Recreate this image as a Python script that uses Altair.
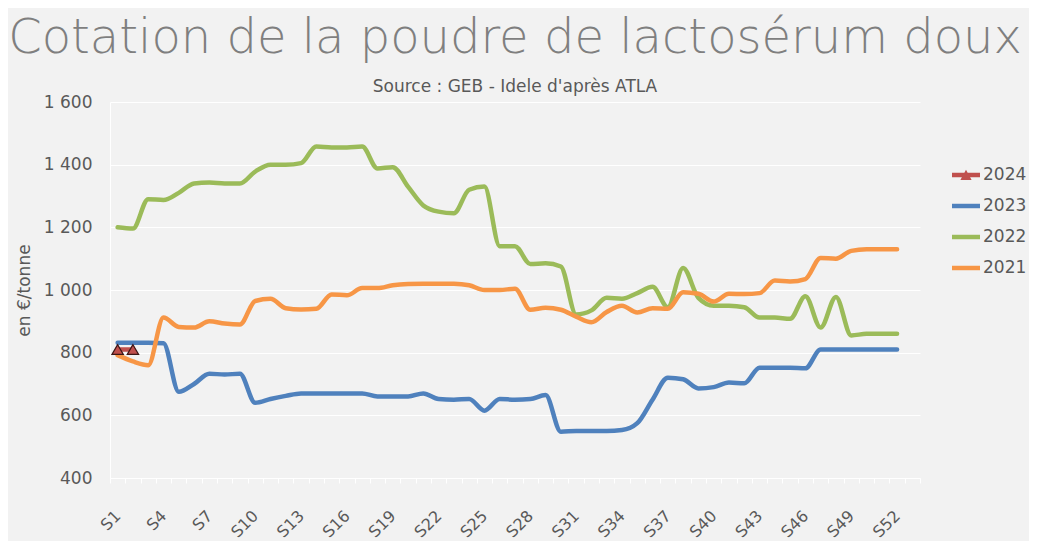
import json
import altair as alt
import pandas as pd

# ---------------- data ----------------
weeks = [f"S{i}" for i in range(1, 54)]
tick_labels = [f"S{i}" for i in range(1, 54, 3)]
years = ["2024", "2023", "2022", "2021"]
colors = ["#c0504d", "#4f81bd", "#9bbb59", "#f79646"]

v2024 = [810, 810]
v2023 = [832, 832, 832, 830, 675, 700, 733, 730, 733, 640,
         652, 662, 670, 670, 670, 670, 670, 660, 660, 660,
         670, 652, 650, 652, 615, 652, 650, 652, 665, 548,
         550, 550, 550, 553, 575, 650, 720, 715, 686, 690,
         705, 702, 752, 752, 752, 750, 810, 810, 810, 810,
         810, 810]
v2022 = [1200, 1196, 1290, 1287, 1310, 1340, 1343, 1340, 1340, 1378,
         1400, 1400, 1405, 1458, 1455, 1455, 1458, 1388, 1392, 1330,
         1270, 1250, 1245, 1320, 1330, 1140, 1140, 1083, 1085, 1075,
         922, 935, 975, 972, 990, 1010, 945, 1070, 975, 950,
         950, 945, 912, 912, 908, 980, 880, 978, 855, 860,
         860, 860]
v2021 = [792, 772, 760, 912, 882, 880, 900, 893, 890, 965,
         972, 942, 938, 940, 986, 983, 1006, 1006, 1015, 1019,
         1020, 1020, 1020, 1015, 1000, 1000, 1004, 937, 943, 937,
         915, 897, 930, 950, 928, 942, 940, 993, 988, 963,
         988, 987, 990, 1030, 1027, 1035, 1102, 1100, 1125, 1130,
         1130, 1130]

year_color = dict(zip(years, colors))
rows = []
for yr, vals in [("2023", v2023), ("2022", v2022), ("2021", v2021), ("2024", v2024)]:
    for w, v in zip(weeks, vals):
        rows.append({"semaine": w, "annee": yr, "valeur": v, "couleur": year_color[yr]})
df = pd.DataFrame(rows)

# ---------------- styling ----------------
TXT = "#595959"
FONT = "DejaVu Sans"
bar_path = "M-1,-0.16H1V0.16H-1Z"
tri_path = bar_path + " M-0.4,0.36L0,-0.38L0.4,0.36Z"

label_expr = "indexof(" + json.dumps(tick_labels) + ", datum.value) >= 0 ? datum.value : ''"

x_enc = alt.X(
    "semaine:N",
    sort=weeks,
    scale=alt.Scale(type="band", domain=weeks, paddingInner=0, paddingOuter=0),
    axis=alt.Axis(
        title=None, labelAngle=-45, labelAlign="right", labelBaseline="middle",
        labelExpr=label_expr, labelOverlap=False, tickBand="extent",
        tickColor="#ffffff", tickSize=5, domainColor="#ffffff",
        labelFontSize=16, labelColor=TXT, labelFont=FONT, labelPadding=30, grid=False,
    ),
)
y_enc = alt.Y(
    "valeur:Q",
    scale=alt.Scale(domain=[400, 1600], nice=False, zero=False),
    axis=alt.Axis(
        values=[400, 600, 800, 1000, 1200, 1400, 1600],
        title="en €/tonne",
        labelExpr="replace(format(datum.value, ','), ',', ' ')",
        grid=True, gridColor="#ffffff", gridWidth=1, domainColor="#ffffff",
        ticks=False, labelPadding=18, labelFontSize=17, labelColor=TXT, labelFont=FONT,
        titleFontSize=17, titleColor=TXT, titleFont=FONT, titleFontWeight="normal",
        titlePadding=10,
    ),
)

base = alt.Chart(df)

lines = base.mark_line(strokeWidth=4.5, interpolate="monotone", strokeCap="round").encode(
    x=x_enc,
    y=y_enc,
    color=alt.Color("couleur:N", scale=None),
    detail="annee:N",
)

markers = base.transform_filter("datum.annee == '2024'").mark_point(
    filled=True, opacity=1, size=130, stroke="#3d1716", strokeWidth=1.2
).encode(
    x=x_enc,
    y=y_enc,
    shape=alt.value("triangle-up"),
    color=alt.value("#c0504d"),
)

leg = alt.Legend(orient="none", legendX=842, legendY=59,
                 labelFontSize=17, labelColor=TXT, labelFont=FONT,
                 symbolSize=784, symbolStrokeWidth=0,
                 labelOffset=3, rowPadding=9)

legend_layer = base.transform_filter("datum.semaine == 'S1'").mark_point(
    filled=True, opacity=0, size=784
).encode(
    x=x_enc,
    y=y_enc,
    color=alt.Color("annee:N", scale=alt.Scale(domain=years, range=colors), title=None, legend=leg),
    shape=alt.Shape("annee:N", scale=alt.Scale(domain=years, range=[tri_path, bar_path, bar_path, bar_path]),
                    title=None, legend=leg),
)

chart = alt.layer(lines, markers, legend_layer).properties(
    width=810,
    height=376,
    title=alt.TitleParams(
        text="Cotation de la poudre de lactosérum doux",
        subtitle="Source : GEB - Idele d'après ATLA",
        font=FONT, fontSize=48, fontWeight=200, color="#7f7f7f",
        subtitleFont=FONT, subtitleFontSize=17, subtitleColor=TXT,
        subtitlePadding=16, anchor="middle", offset=-2,
    ),
    autosize=alt.AutoSizeParams(type="none"),
    padding={"left": 102, "top": 94, "right": 109, "bottom": 63},
    background="#f2f2f2",
).configure_view(stroke=None).configure_legend(symbolOpacity=1)

chart.save("out.html", embed_options={"renderer": "svg", "actions": False})
